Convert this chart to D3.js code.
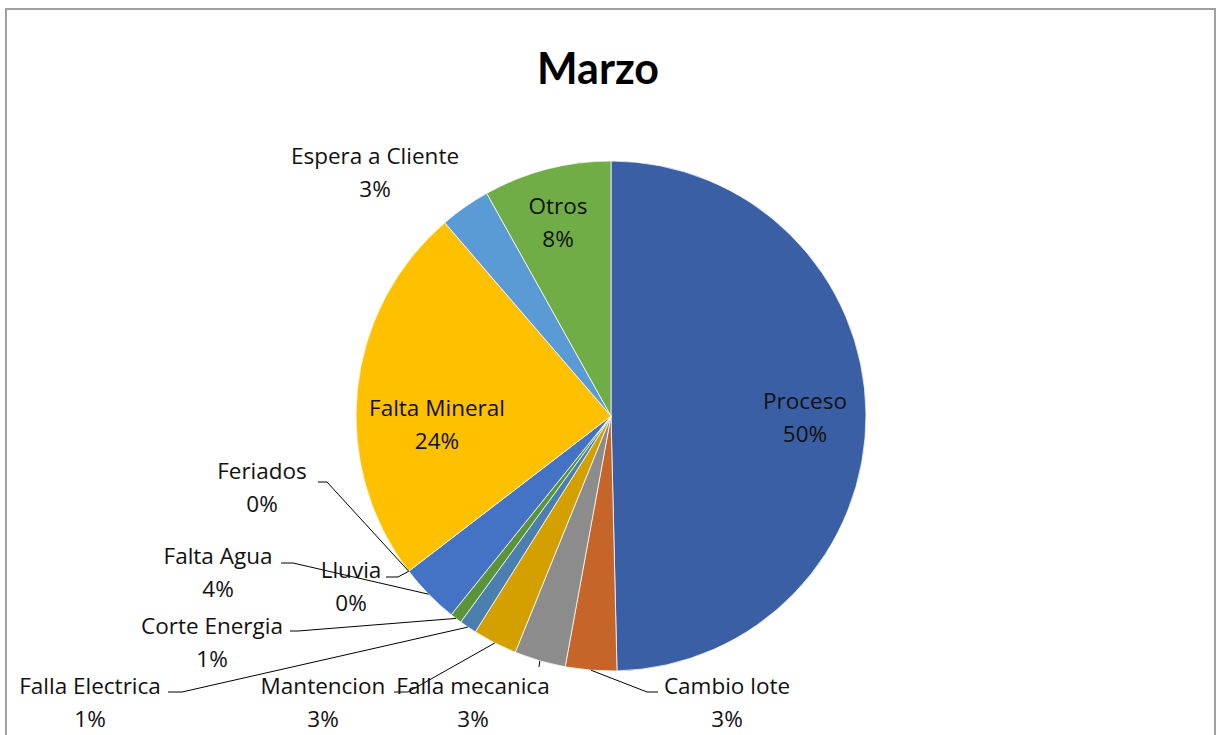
<!DOCTYPE html>
<html>
<head>
<meta charset="utf-8">
<script src="https://cdn.jsdelivr.net/npm/d3@7"></script>
<style>
	html, body { margin: 0; padding: 0; background: #fff; }
	svg { display: block; }
	text { font-family: "Open Sans", Lato, sans-serif; fill: #111; }
</style>
</head>
<body>
<div id="chart"></div>
<script>
// slice order, clockwise from 12 o'clock
const CATEGORIES = ['Proceso', 'Cambio lote', 'Falla mecanica', 'Mantencion', 'Falla Electrica',
	'Corte Energia', 'Falta Agua', 'Lluvia', 'Feriados', 'Falta Mineral', 'Espera a Cliente', 'Otros'];
const VALUES = [49.6, 3.25, 3.25, 2.8, 1.1, 0.75, 3.8, 0, 0, 24.1, 3.2, 8.1];
const COLORS = ['#3a5fa4', '#c5652a', '#8c8c8c', '#d4a000', '#4a7fb0',
	'#5b9438', '#4472c4', '#8fa9d6', '#a5a5a5', '#ffc000', '#5b9bd5', '#70ad47'];
const TITLE = 'Marzo';

const W = 1222, H = 735,
	cx = 611, cy = 416,
	radius = 255;

// label placement: text centre (first line), optional leader start and elbow
const LABELS = {
	'Proceso':          { x: 805, y: 401 },
	'Otros':            { x: 558, y: 206 },
	'Espera a Cliente': { x: 375, y: 156 },
	'Falta Mineral':    { x: 437, y: 408 },
	'Feriados':         { x: 262, y: 471, lead: [318, 482], elbow: [327, 482] },
	'Lluvia':           { x: 351, y: 570, lead: [386, 577], elbow: [398, 577] },
	'Falta Agua':       { x: 218, y: 556, lead: [281, 563], elbow: [293, 563] },
	'Corte Energia':    { x: 212, y: 626, lead: [290, 631], elbow: [298, 631] },
	'Falla Electrica':  { x: 90,  y: 686, lead: [168, 692], elbow: [182, 692] },
	'Mantencion':       { x: 323, y: 686, lead: [394, 692], elbow: [408, 692] },
	'Falla mecanica':   { x: 473, y: 686, lead: [539, 667] },
	'Cambio lote':      { x: 727, y: 686, lead: [658, 692], elbow: [647, 692] }
};

let svg = d3.select('#chart').append('svg')
	.attr('width', W)
	.attr('height', H);

// chart frame
svg.append('rect')
	.attr('x', 6)
	.attr('y', 9)
	.attr('width', 1209)
	.attr('height', H + 20)
	.attr('fill', '#fff')
	.attr('stroke', '#a0a0a0')
	.attr('stroke-width', 2);

svg.append('text')
	.attr('x', 598)
	.attr('y', 84)
	.attr('text-anchor', 'middle')
	.style('font-family', 'Lato, sans-serif')
	.style('font-size', '43px')
	.style('font-weight', 'bold')
	.style('fill', '#000')
	.text(TITLE);

let data = CATEGORIES.map((c, i) => ({ name: c, value: VALUES[i], color: COLORS[i] }));
let total = d3.sum(VALUES);

let pie = d3.pie()
	.sort(null)
	.value(d => d.value);

let arc = d3.arc()
	.innerRadius(0)
	.outerRadius(radius);

let arcs = pie(data);

let g = svg.append('g')
	.attr('transform', 'translate(' + cx + ',' + cy + ')');

g.selectAll('path.slice')
	.data(arcs)
	.join('path')
	.attr('class', 'slice')
	.attr('d', arc)
	.attr('fill', d => d.data.color)
	.attr('stroke', '#fff')
	.attr('stroke-width', d => d.value > 0 ? 0.75 : 0);

// point on the rim at the middle of a slice, in page coordinates
function rimPoint(d) {
	let a = (d.startAngle + d.endAngle) / 2;
	return [cx + radius * Math.sin(a), cy - radius * Math.cos(a)];
}

// leader lines
arcs.forEach(d => {
	let lab = LABELS[d.data.name];
	if (!lab.lead) { return; }
	let pts = [lab.lead];
	if (lab.elbow) { pts.push(lab.elbow); }
	pts.push(rimPoint(d));
	svg.append('path')
		.attr('d', d3.line()(pts))
		.attr('fill', 'none')
		.attr('stroke', '#000')
		.attr('stroke-width', 1);
});

// labels: name and rounded percentage
arcs.forEach(d => {
	let lab = LABELS[d.data.name];
	let t = svg.append('text')
		.attr('text-anchor', 'middle')
		.style('font-size', '22.5px');
	t.append('tspan')
		.attr('x', lab.x)
		.attr('y', lab.y + 8)
		.text(d.data.name);
	t.append('tspan')
		.attr('x', lab.x)
		.attr('y', lab.y + 41)
		.text(Math.round(d.data.value / total * 100) + '%');
});
</script>
</body>
</html>
